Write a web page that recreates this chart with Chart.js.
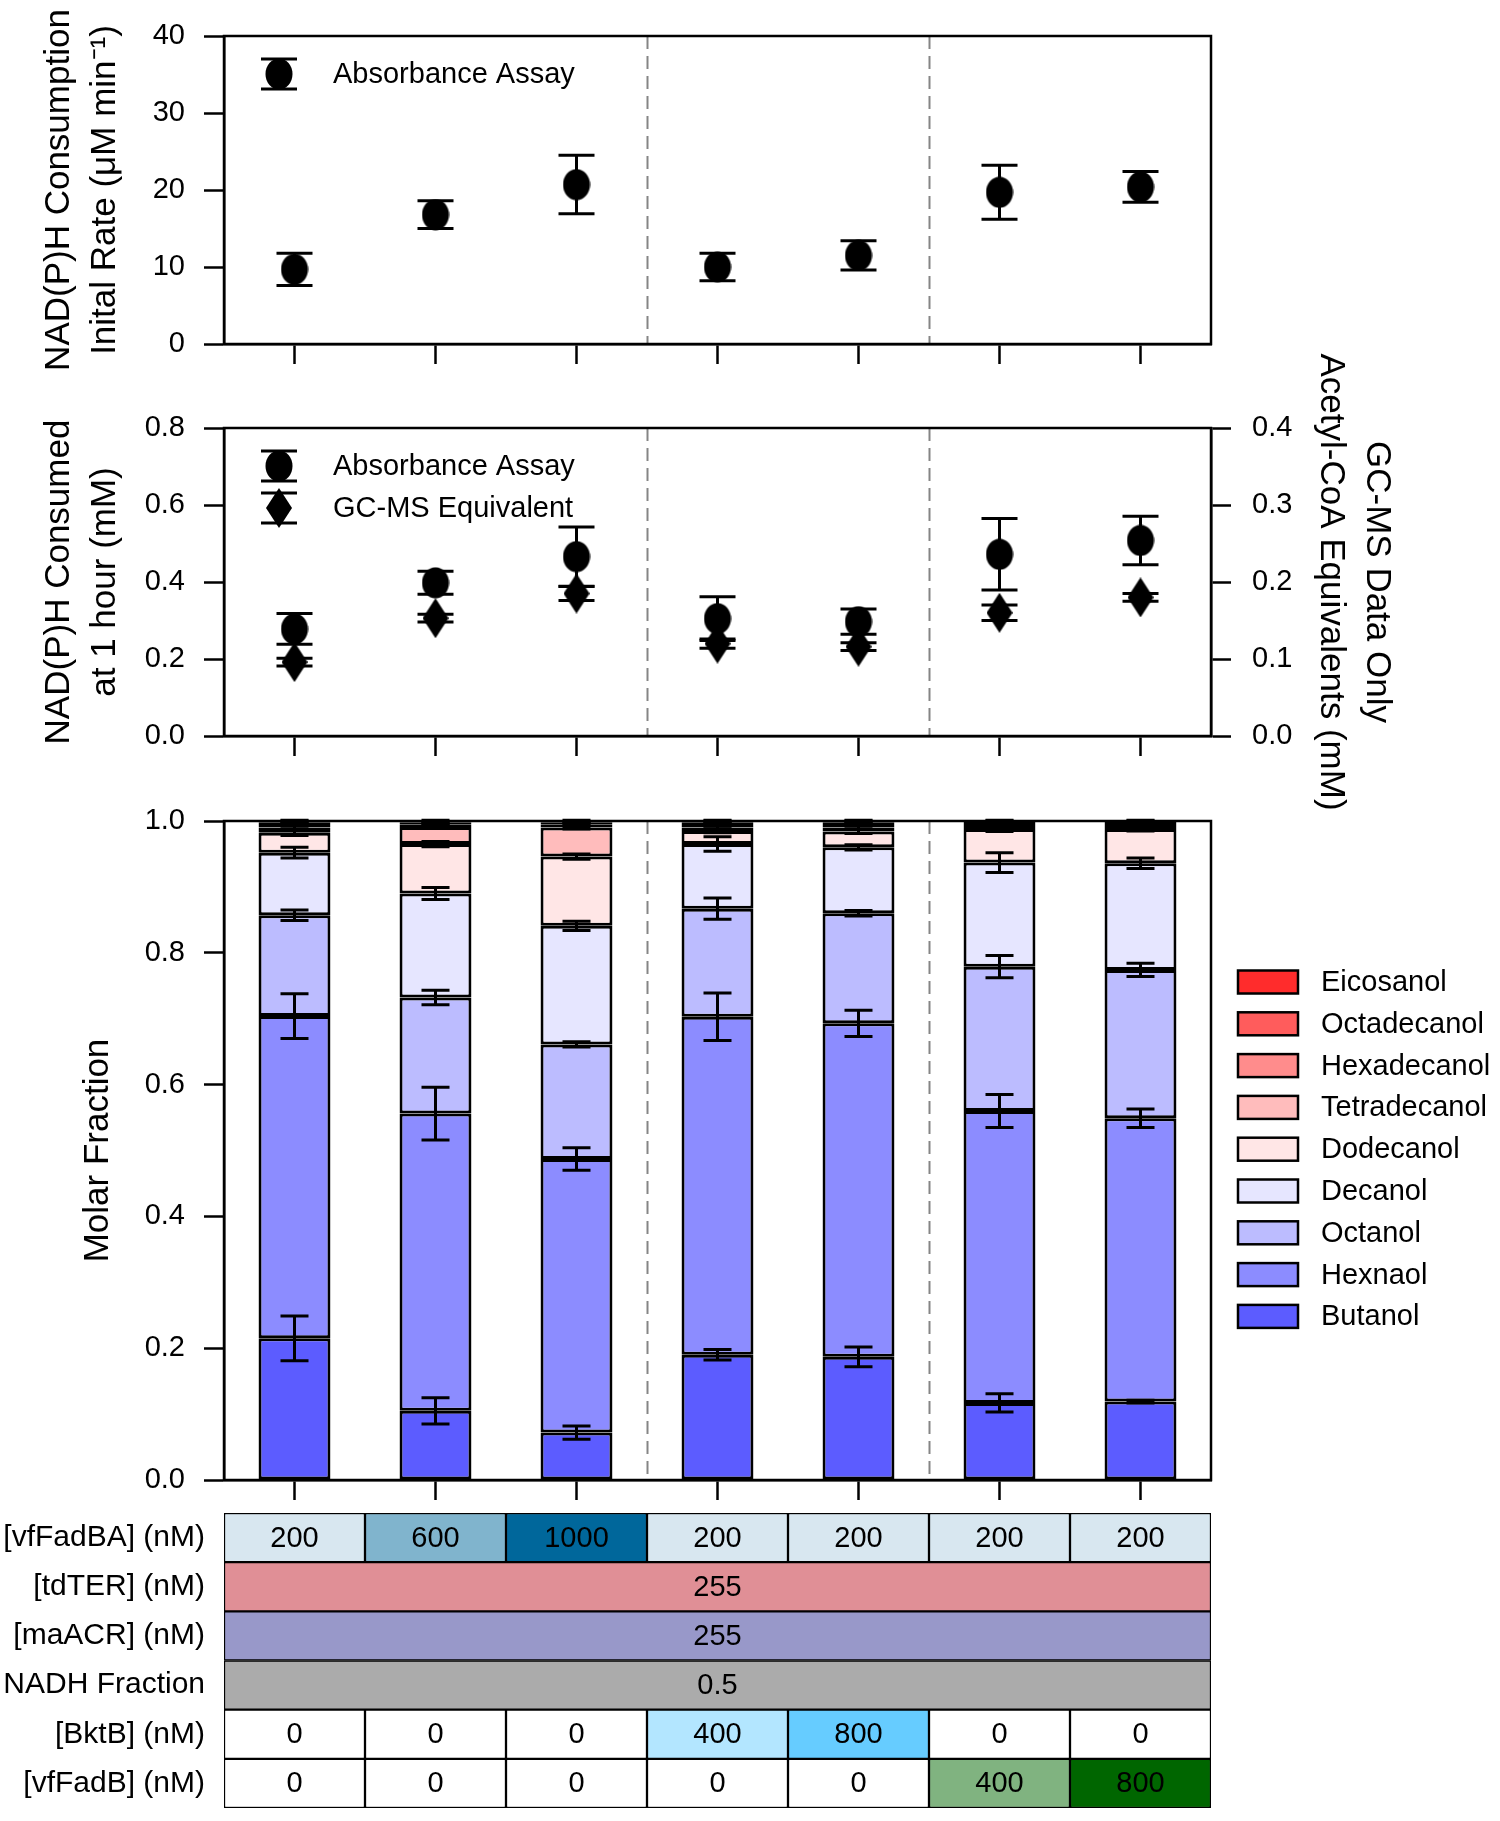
<!DOCTYPE html>
<html>
<head>
<meta charset="utf-8">
<script src="https://cdn.jsdelivr.net/npm/chart.js@4.4.1/dist/chart.umd.min.js"></script>
<style>
  body { margin: 0; background: #fff; }
  #wrap { position: relative; width: 1500px; height: 1821px; background: #fff; }
  #wrap canvas { position: absolute; left: 0; }
</style>
</head>
<body>
<div id="wrap">
  <canvas id="chartRate" width="1500" height="390" style="top:0px"></canvas>
  <canvas id="chartFraction" width="1500" height="725" style="top:780px"></canvas>
  <canvas id="chartTable" width="1500" height="321" style="top:1500px"></canvas>
  <canvas id="chartConsumed" width="1500" height="500" style="top:340px"></canvas>
</div>
<script>
// ============================================================
// Data
// ============================================================
var conditions = ['vfFadBA 200', 'vfFadBA 600', 'vfFadBA 1000', 'BktB 400', 'BktB 800', 'vfFadB 400', 'vfFadB 800'];

// Panel 1: initial rate (uM/min)
var rateMean = [9.7, 16.8, 20.7, 10.0, 11.5, 19.7, 20.4];
var rateErr = [2.1, 1.8, 3.8, 1.8, 1.9, 3.5, 2.0];

// Panel 2: consumed at 1 h (mM) + GC-MS acetyl-CoA equivalents (mM, right axis)
var consumedMean = [0.278, 0.398, 0.466, 0.305, 0.297, 0.472, 0.508];
var consumedErr = [0.040, 0.030, 0.077, 0.057, 0.033, 0.093, 0.063];
var gcmsMean = [0.096, 0.153, 0.185, 0.120, 0.116, 0.160, 0.180];
var gcmsErr = [0.005, 0.005, 0.009, 0.006, 0.005, 0.010, 0.005];

// Panel 3: molar fractions, bottom to top
var alcoholNames = ['Butanol', 'Hexnaol', 'Octanol', 'Decanol', 'Dodecanol', 'Tetradecanol', 'Hexadecanol', 'Octadecanol', 'Eicosanol'];
var butanol      = [0.215, 0.105, 0.072, 0.190, 0.187, 0.117, 0.119];
var hexanol      = [0.489, 0.451, 0.415, 0.513, 0.506, 0.443, 0.430];
var octanol      = [0.153, 0.176, 0.174, 0.164, 0.167, 0.219, 0.225];
var decanol      = [0.095, 0.158, 0.180, 0.098, 0.100, 0.158, 0.162];
var dodecanol    = [0.030, 0.075, 0.105, 0.020, 0.024, 0.051, 0.052];
var tetradecanol = [0.008, 0.026, 0.044, 0.005, 0.006, 0.006, 0.006];
var hexadecanol  = [0.004, 0.004, 0.005, 0.004, 0.004, 0.003, 0.003];
var octadecanol  = [0.004, 0.003, 0.003, 0.004, 0.004, 0.002, 0.002];
var eicosanol    = [0.002, 0.002, 0.002, 0.002, 0.002, 0.001, 0.001];

var butanolErr      = [0.034, 0.020, 0.010, 0.008, 0.015, 0.014, 0.002];
var hexanolErr      = [0.034, 0.040, 0.017, 0.036, 0.020, 0.025, 0.014];
var octanolErr      = [0.008, 0.011, 0.004, 0.016, 0.004, 0.017, 0.010];
var decanolErr      = [0.008, 0.009, 0.007, 0.011, 0.004, 0.015, 0.008];
var dodecanolErr    = [0.004, 0.004, 0.004, 0.003, 0.003, 0.004, 0.003];
var tetradecanolErr = [0.003, 0.002, 0.002, 0.003, 0.003, 0.002, 0.002];
var hexadecanolErr  = [0.002, 0.001, 0.001, 0.002, 0.002, 0.001, 0.001];
var octadecanolErr  = [0.002, 0.001, 0.001, 0.002, 0.002, 0.001, 0.001];
var eicosanolErr    = [0.001, 0.001, 0.001, 0.001, 0.001, 0.001, 0.001];

// Conditions table
var tableRows = ['[vfFadBA] (nM)', '[tdTER] (nM)', '[maACR] (nM)', 'NADH Fraction', '[BktB] (nM)', '[vfFadB] (nM)'];
var vfFadBA = [200, 600, 1000, 200, 200, 200, 200];
var tdTER = 255;
var maACR = 255;
var nadhFraction = 0.5;
var bktB = [0, 0, 0, 400, 800, 0, 0];
var vfFadB = [0, 0, 0, 0, 0, 400, 800];

// ============================================================
// Styles
// ============================================================
var FONT = "'Liberation Sans', Arial, Helvetica, sans-serif";
Chart.defaults.font.family = FONT;
Chart.defaults.font.size = 29;
Chart.defaults.color = '#000';

var ALCOHOL_COLORS = ['#5c5cff', '#8c8cff', '#bcbcff', '#e6e6ff', '#ffe6e6', '#ffbcbc', '#ff8c8c', '#ff5c5c', '#ff2c2c'];
var VFFADBA_COLORS = { 200: '#d8e7f0', 600: '#80b4cd', 1000: '#00679b' };
var BKTB_COLORS = { 0: '#ffffff', 400: '#b3e6ff', 800: '#66ccff' };
var VFFADB_COLORS = { 0: '#ffffff', 400: '#80b380', 800: '#006600' };

function makeMarker(kind) {
  var c = document.createElement('canvas');
  var ctx;
  if (kind === 'circle') {
    c.width = 28; c.height = 32;
    ctx = c.getContext('2d');
    ctx.fillStyle = '#000';
    ctx.beginPath();
    ctx.ellipse(14, 16, 13.5, 15.5, 0, 0, Math.PI * 2);
    ctx.fill();
  } else {
    c.width = 26; c.height = 40;
    ctx = c.getContext('2d');
    ctx.fillStyle = '#000';
    ctx.beginPath();
    ctx.moveTo(13, 0); ctx.lineTo(26, 20); ctx.lineTo(13, 40); ctx.lineTo(0, 20);
    ctx.closePath();
    ctx.fill();
  }
  return c;
}
var MARK_CIRCLE = makeMarker('circle');
var MARK_DIAMOND = makeMarker('diamond');

// ============================================================
// Plugins
// ============================================================
var framePlugin = {
  id: 'frame',
  afterDraw: function(chart) {
    var a = chart.chartArea, ctx = chart.ctx;
    ctx.save();
    ctx.strokeStyle = '#000';
    ctx.lineWidth = 2.5;
    ctx.strokeRect(a.left, a.top, a.right - a.left, a.bottom - a.top);
    ctx.restore();
  }
};

var dividersPlugin = {
  id: 'dividers',
  beforeDatasetsDraw: function(chart, args, opts) {
    var a = chart.chartArea, ctx = chart.ctx, xs = chart.scales.x;
    ctx.save();
    ctx.strokeStyle = '#858585';
    ctx.lineWidth = 2;
    ctx.setLineDash([13, 7]);
    (opts.at || []).forEach(function(v) {
      var x = Math.round(xs.getPixelForValue(v)) + 0.5;
      ctx.beginPath();
      ctx.moveTo(x, a.top);
      ctx.lineTo(x, a.bottom);
      ctx.stroke();
    });
    ctx.restore();
  }
};

var errorBarsPlugin = {
  id: 'errorBars',
  afterDatasetsDraw: function(chart, args, opts) {
    var ctx = chart.ctx;
    var cum = [];
    ctx.save();
    ctx.strokeStyle = '#000';
    ctx.lineWidth = opts.lineWidth || 3;
    ctx.setLineDash([]);
    chart.data.datasets.forEach(function(ds, di) {
      var meta = chart.getDatasetMeta(di);
      var ys = chart.scales[meta.yAxisID];
      ds.data.forEach(function(v, i) {
        var top = v;
        if (opts.stacked) {
          cum[i] = (cum[i] || 0) + v;
          top = cum[i];
        }
        var e = ds.errors ? ds.errors[i] : 0;
        if (!e) return;
        var x = meta.data[i].x;
        var y1 = ys.getPixelForValue(top + e);
        var y2 = ys.getPixelForValue(top - e);
        var hw = (opts.capWidth || 36) / 2;
        ctx.beginPath();
        ctx.moveTo(x, y1); ctx.lineTo(x, y2);
        ctx.moveTo(x - hw, y1); ctx.lineTo(x + hw, y1);
        ctx.moveTo(x - hw, y2); ctx.lineTo(x + hw, y2);
        ctx.stroke();
      });
    });
    ctx.restore();
  }
};

// legend with marker + error bar glyph, drawn inside the plot box
var markerLegendPlugin = {
  id: 'markerLegend',
  afterDraw: function(chart) {
    var a = chart.chartArea, ctx = chart.ctx;
    ctx.save();
    chart.data.datasets.forEach(function(ds, di) {
      var cx = a.left + 55;
      var cy = a.top + 38 + di * 42;
      var img = ds.pointStyle;
      ctx.drawImage(img, cx - img.width / 2, cy - img.height / 2);
      ctx.strokeStyle = '#000';
      ctx.lineWidth = 3;
      ctx.beginPath();
      ctx.moveTo(cx, cy - 15); ctx.lineTo(cx, cy + 15);
      ctx.moveTo(cx - 18, cy - 15); ctx.lineTo(cx + 18, cy - 15);
      ctx.moveTo(cx - 18, cy + 15); ctx.lineTo(cx + 18, cy + 15);
      ctx.stroke();
      ctx.fillStyle = '#000';
      ctx.font = '29px ' + FONT;
      ctx.textAlign = 'left';
      ctx.textBaseline = 'middle';
      ctx.fillText(ds.label, a.left + 109, cy + 1);
    });
    ctx.restore();
  }
};

// swatch legend at the right of the stacked bars (top layer first)
var swatchLegendPlugin = {
  id: 'swatchLegend',
  afterDraw: function(chart) {
    var a = chart.chartArea, ctx = chart.ctx;
    var list = chart.data.datasets.slice().reverse();
    ctx.save();
    list.forEach(function(ds, k) {
      var cy = a.top + 161 + k * 41.8;
      var x0 = a.right + 27;
      ctx.fillStyle = ds.backgroundColor;
      ctx.fillRect(x0, cy - 11.5, 60, 23);
      ctx.strokeStyle = '#000';
      ctx.lineWidth = 2.5;
      ctx.strokeRect(x0, cy - 11.5, 60, 23);
      ctx.fillStyle = '#000';
      ctx.font = '29px ' + FONT;
      ctx.textAlign = 'left';
      ctx.textBaseline = 'middle';
      ctx.fillText(ds.label, a.right + 110, cy + 1);
    });
    ctx.restore();
  }
};

var cellTextPlugin = {
  id: 'cellText',
  afterDatasetsDraw: function(chart) {
    var ctx = chart.ctx;
    ctx.save();
    ctx.fillStyle = '#000';
    ctx.font = '29px ' + FONT;
    ctx.textAlign = 'center';
    ctx.textBaseline = 'middle';
    chart.data.datasets.forEach(function(ds, di) {
      var meta = chart.getDatasetMeta(di);
      meta.data.forEach(function(el, i) {
        var p = el.getCenterPoint();
        ctx.fillText(ds.data[i].text, p.x, p.y + 1);
      });
    });
    ctx.restore();
  }
};

// ============================================================
// Shared axis builders
// ============================================================
function fixWidth(w) {
  return function(s) { s.width = w; s.paddingTop = 0; s.paddingBottom = 0; };
}
function fixHeight(h) {
  return function(s) { s.height = h; s.paddingLeft = 0; s.paddingRight = 0; };
}

function xAxis(h, stacked) {
  return {
    type: 'category',
    offset: true,
    stacked: !!stacked,
    grid: { display: true, offset: false, drawOnChartArea: false, drawTicks: true, tickLength: 20, tickColor: '#000', tickWidth: 2.5, color: '#000' },
    border: { display: true, color: '#000', width: 2.5 },
    ticks: { display: false },
    afterFit: fixHeight(h)
  };
}

function yAxis(position, min, max, step, digits, title, titlePad, width, stacked) {
  return {
    type: 'linear',
    position: position,
    min: min,
    max: max,
    stacked: !!stacked,
    ticks: {
      stepSize: step,
      padding: position === 'left' ? 19 : 21,
      color: '#000',
      font: { size: 29 },
      callback: function(v) { return Number(v).toFixed(digits); }
    },
    grid: { drawOnChartArea: false, drawTicks: true, tickLength: 20, tickColor: '#000', tickWidth: 2.5, color: '#000' },
    border: { display: true, color: '#000', width: 2.5 },
    title: { display: true, text: title, color: '#000', font: { size: 35, lineHeight: 1.3 }, padding: { top: titlePad, bottom: 0 } },
    afterFit: fixWidth(width)
  };
}

// ============================================================
// Panel 1: NAD(P)H consumption initial rate
// ============================================================
new Chart(document.getElementById('chartRate'), {
  type: 'line',
  data: {
    labels: conditions,
    datasets: [
      { label: 'Absorbance Assay', data: rateMean, errors: rateErr, showLine: false, pointStyle: MARK_CIRCLE, yAxisID: 'y' }
    ]
  },
  options: {
    responsive: false,
    animation: false,
    layout: { padding: { left: 0, top: 36, right: 289, bottom: 0 } },
    plugins: {
      legend: { display: false },
      tooltip: { enabled: false },
      dividers: { at: [2.5, 4.5] },
      errorBars: { capWidth: 36, lineWidth: 3 }
    },
    scales: {
      x: xAxis(46),
      y: yAxis('left', 0, 40, 10, 0, ['NAD(P)H Consumption', 'Inital Rate (\u03bcM min\u207b\u00b9)'], 37, 224)
    }
  },
  plugins: [dividersPlugin, errorBarsPlugin, framePlugin, markerLegendPlugin]
});

// ============================================================
// Panel 2: NAD(P)H consumed at 1 hour + GC-MS equivalents
// (canvas is taller than the panel so the long right title fits)
// ============================================================
new Chart(document.getElementById('chartConsumed'), {
  type: 'line',
  data: {
    labels: conditions,
    datasets: [
      { label: 'Absorbance Assay', data: consumedMean, errors: consumedErr, showLine: false, pointStyle: MARK_CIRCLE, yAxisID: 'y' },
      { label: 'GC-MS Equivalent', data: gcmsMean, errors: gcmsErr, showLine: false, pointStyle: MARK_DIAMOND, yAxisID: 'y2' }
    ]
  },
  options: {
    responsive: false,
    animation: false,
    layout: { padding: { left: 0, top: 88, right: 89, bottom: 60 } },
    plugins: {
      legend: { display: false },
      tooltip: { enabled: false },
      dividers: { at: [2.5, 4.5] },
      errorBars: { capWidth: 36, lineWidth: 3 }
    },
    scales: {
      x: xAxis(44),
      y: yAxis('left', 0, 0.8, 0.2, 1, ['NAD(P)H Consumed', 'at 1 hour (mM)'], 37, 224),
      y2: yAxis('right', 0, 0.4, 0.1, 1, ['GC-MS Data Only', 'Acetyl-CoA Equivalents (mM)'], 12, 200)
    }
  },
  plugins: [dividersPlugin, errorBarsPlugin, framePlugin, markerLegendPlugin]
});

// ============================================================
// Panel 3: molar fraction of alcohol products
// ============================================================
var layers = [butanol, hexanol, octanol, decanol, dodecanol, tetradecanol, hexadecanol, octadecanol, eicosanol];
var layerErrs = [butanolErr, hexanolErr, octanolErr, decanolErr, dodecanolErr, tetradecanolErr, hexadecanolErr, octadecanolErr, eicosanolErr];

new Chart(document.getElementById('chartFraction'), {
  type: 'bar',
  data: {
    labels: conditions,
    datasets: layers.map(function(arr, k) {
      return {
        label: alcoholNames[k],
        data: arr,
        errors: layerErrs[k],
        backgroundColor: ALCOHOL_COLORS[k],
        borderColor: '#000',
        borderWidth: 3,
        borderSkipped: false,
        barPercentage: 0.51,
        categoryPercentage: 1
      };
    })
  },
  options: {
    responsive: false,
    animation: false,
    layout: { padding: { left: 0, top: 41, right: 289, bottom: 0 } },
    plugins: {
      legend: { display: false },
      tooltip: { enabled: false },
      dividers: { at: [2.5, 4.5] },
      errorBars: { capWidth: 28, lineWidth: 3, stacked: true }
    },
    scales: {
      x: xAxis(25, true),
      y: yAxis('left', 0, 1, 0.2, 1, 'Molar Fraction', 76, 224, true)
    }
  },
  plugins: [dividersPlugin, errorBarsPlugin, framePlugin, swatchLegendPlugin]
});

// ============================================================
// Conditions table (floating horizontal bars)
// ============================================================
var tableCells = [];
var tableColors = [];
function addCells(row, values, colorMap) {
  values.forEach(function(v, i) {
    tableCells.push({ x: [i - 0.5, i + 0.5], y: tableRows[row], text: String(v) });
    tableColors.push(colorMap[v]);
  });
}
function addSpan(row, value, color) {
  tableCells.push({ x: [-0.5, conditions.length - 0.5], y: tableRows[row], text: String(value) });
  tableColors.push(color);
}
addCells(0, vfFadBA, VFFADBA_COLORS);
addSpan(1, tdTER, '#e08f96');
addSpan(2, maACR, '#9898c9');
addSpan(3, nadhFraction, '#ababab');
addCells(4, bktB, BKTB_COLORS);
addCells(5, vfFadB, VFFADB_COLORS);

new Chart(document.getElementById('chartTable'), {
  type: 'bar',
  data: {
    labels: tableRows,
    datasets: [{
      label: 'conditions',
      data: tableCells,
      backgroundColor: tableColors,
      borderColor: '#000',
      borderWidth: 1.5,
      borderSkipped: false,
      barPercentage: 1,
      categoryPercentage: 1
    }]
  },
  options: {
    indexAxis: 'y',
    responsive: false,
    animation: false,
    layout: { padding: { left: 0, top: 13, right: 289, bottom: 13 } },
    plugins: { legend: { display: false }, tooltip: { enabled: false } },
    scales: {
      x: { type: 'linear', min: -0.5, max: conditions.length - 0.5, display: false },
      y: {
        type: 'category',
        offset: true,
        grid: { display: false, drawTicks: false },
        border: { display: false },
        ticks: { color: '#000', padding: 19, font: { size: 30 } },
        afterFit: fixWidth(224)
      }
    }
  },
  plugins: [cellTextPlugin]
});
</script>
</body>
</html>
